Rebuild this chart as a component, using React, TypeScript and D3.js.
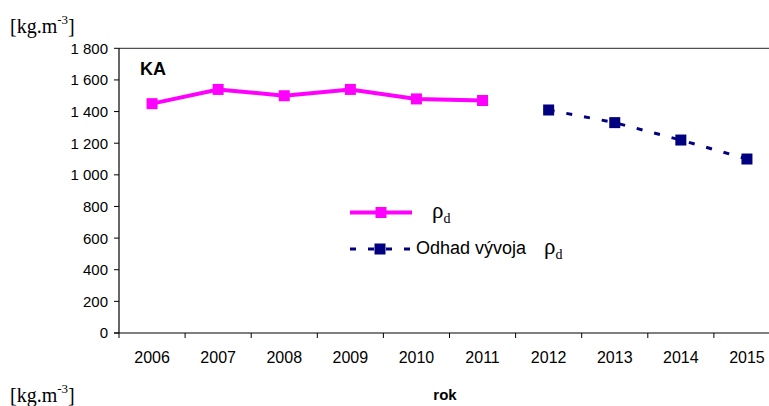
import * as d3 from "d3";

const years = ["2006", "2007", "2008", "2009", "2010", "2011", "2012", "2013", "2014", "2015"];
const measuredYears = ["2006", "2007", "2008", "2009", "2010", "2011"];
const measuredValues = [1450, 1540, 1500, 1540, 1480, 1470];
const estimateYears = ["2012", "2013", "2014", "2015"];
const estimateValues = [1410, 1330, 1220, 1100];
const yTicks = [0, 200, 400, 600, 800, 1000, 1200, 1400, 1600, 1800];

const W = 769;
const H = 406;
const plot = { left: 119, right: 780, top: 48.3, bottom: 333 };
const sans = "'Liberation Sans', Arial, sans-serif";
const serif = "'Liberation Serif', 'Times New Roman', serif";
const pink = "#FF00FF";
const navy = "#000080";

const fmt = (v: number) => {
  const s = String(v);
  return s.length > 3 ? s.slice(0, -3) + " " + s.slice(-3) : s;
};

// unit label like [kg.m-3]
const Unit = ({ x, y }: { x: number; y: number }) => (
  <text x={x} y={y} fontFamily={serif} fontSize={20}>
    [kg.m<tspan fontSize={13} dy={-9}>-3</tspan>
    <tspan dy={9}>]</tspan>
  </text>
);

const Rho = ({ x, y }: { x: number; y: number }) => (
  <text x={x} y={y} fontFamily={serif} fontSize={23}>
    ρ<tspan fontSize={14} dy={5}>d</tspan>
  </text>
);

export default function App() {
  const x = d3.scaleBand<string>().domain(years).range([plot.left, plot.right]);
  const y = d3.scaleLinear().domain([0, 1800]).range([plot.bottom, plot.top]);
  const cx = (yr: string) => (x(yr) as number) + x.bandwidth() / 2;

  const line = d3
    .line<[string, number]>()
    .x((d) => cx(d[0]))
    .y((d) => y(d[1]));

  const measured: [string, number][] = measuredYears.map((yr, i) => [yr, measuredValues[i]]);
  const estimate: [string, number][] = estimateYears.map((yr, i) => [yr, estimateValues[i]]);

  const ms = 11;

  return (
    <svg width={W} height={H} style={{ position: "absolute", left: 0, top: 0, background: "#fff" }}>
      <Unit x={10} y={33} />
      <Unit x={10} y={402} />

      {/* plot frame */}
      <line x1={plot.left} x2={plot.right} y1={plot.top} y2={plot.top} stroke="#505050" strokeWidth={1.2} />
      <line x1={plot.left} x2={plot.left} y1={plot.top} y2={plot.bottom} stroke="#000" strokeWidth={1.2} />
      <line x1={plot.left - 5} x2={plot.right} y1={plot.bottom} y2={plot.bottom} stroke="#000" strokeWidth={1.2} />

      {/* y axis */}
      {yTicks.map((t) => (
        <g key={t}>
          <line x1={plot.left - 5} x2={plot.left} y1={y(t)} y2={y(t)} stroke="#000" />
          <text x={108} y={y(t)} dy="0.36em" textAnchor="end" fontFamily={sans} fontSize={15}>
            {fmt(t)}
          </text>
        </g>
      ))}

      {/* x axis */}
      {years.map((yr) => (
        <g key={yr}>
          <line
            x1={(x(yr) as number) + x.bandwidth()}
            x2={(x(yr) as number) + x.bandwidth()}
            y1={plot.bottom}
            y2={plot.bottom + 5}
            stroke="#000"
          />
          <text x={cx(yr)} y={363} textAnchor="middle" fontFamily={sans} fontSize={16}>
            {yr}
          </text>
        </g>
      ))}
      <line x1={plot.left} x2={plot.left} y1={plot.bottom} y2={plot.bottom + 5} stroke="#000" />

      <text x={445} y={400} textAnchor="middle" fontFamily={sans} fontSize={15} fontWeight="bold">
        rok
      </text>
      <text x={140} y={75} fontFamily={sans} fontSize={18} fontWeight="bold">
        KA
      </text>

      {/* series */}
      <path d={line(measured) as string} fill="none" stroke={pink} strokeWidth={4} />
      {measured.map((d) => (
        <rect key={d[0]} x={cx(d[0]) - ms / 2} y={y(d[1]) - ms / 2} width={ms} height={ms} fill={pink} />
      ))}
      <path d={line(estimate) as string} fill="none" stroke={navy} strokeWidth={3} strokeDasharray="6,12" />
      {estimate.map((d) => (
        <rect key={d[0]} x={cx(d[0]) - ms / 2} y={y(d[1]) - ms / 2} width={ms} height={ms} fill={navy} />
      ))}

      {/* legend */}
      <line x1={350} x2={412} y1={212.5} y2={212.5} stroke={pink} strokeWidth={4} />
      <rect x={381 - ms / 2} y={212.5 - ms / 2} width={ms} height={ms} fill={pink} />
      <Rho x={432} y={218} />

      <line x1={350} x2={412} y1={249} y2={249} stroke={navy} strokeWidth={3} strokeDasharray="6,12" />
      <rect x={380 - ms / 2} y={249 - ms / 2} width={ms} height={ms} fill={navy} />
      <text x={416} y={254} fontFamily={sans} fontSize={18}>
        Odhad vývoja
      </text>
      <Rho x={544} y={254} />
    </svg>
  );
}
